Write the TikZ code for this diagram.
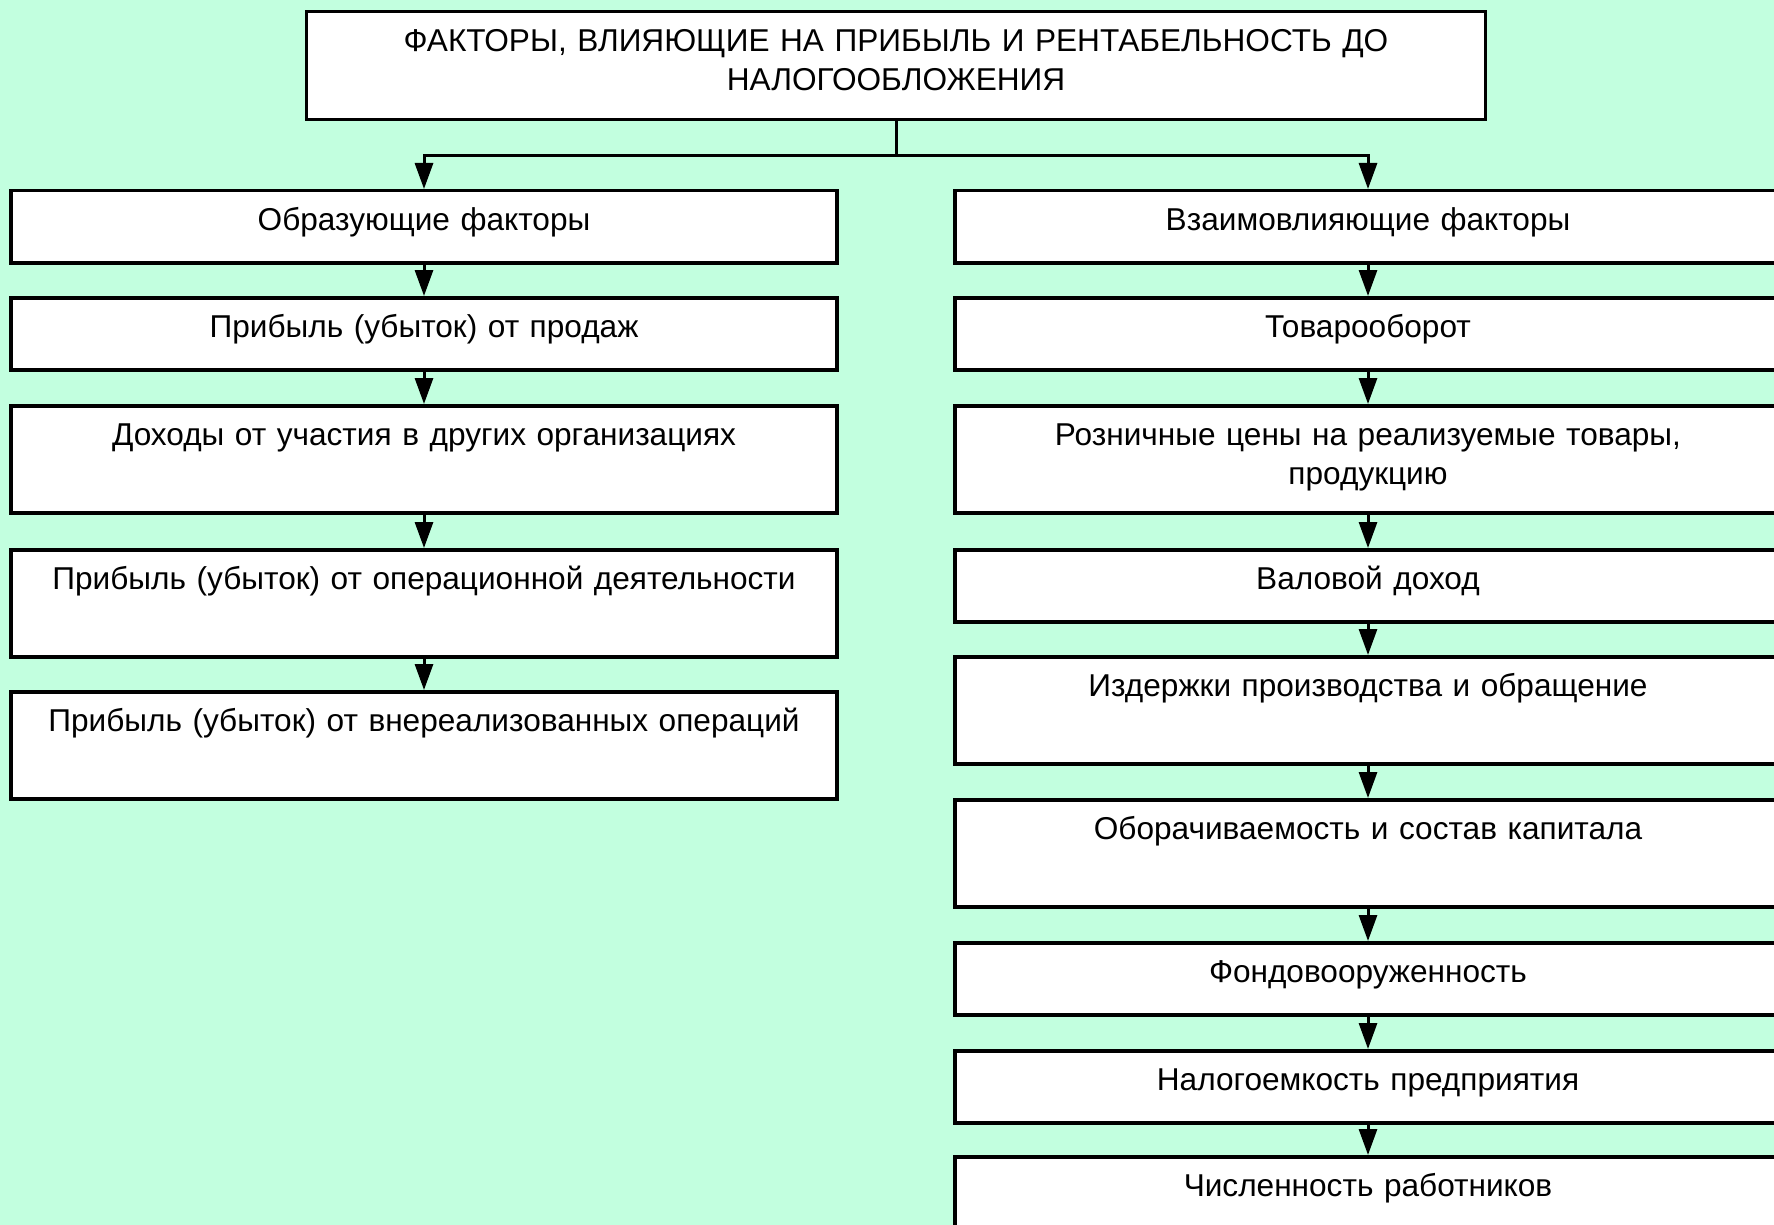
\documentclass[tikz,border=0pt]{standalone}
\usepackage{fontspec}
\setmainfont{Liberation Sans}
\usetikzlibrary{arrows.meta}
\definecolor{mintbg}{RGB}{194,255,223}
\tikzset{
  factbox/.style={draw=black, line width=3.5pt, fill=white, anchor=north,
                  text width=810pt, align=center, inner xsep=8pt, inner ysep=0pt,
                  text height=40pt},
  shortbox/.style={factbox, text depth=32pt},
  tallbox/.style={factbox, text depth=67pt},
  arrow/.style={-{Triangle[length=26pt, width=18pt]}, line width=3pt},
}

\begin{document}
\begin{tikzpicture}[x=1pt, y=1pt, font=\fontsize{31.6pt}{38.5pt}\selectfont]

% ── фон ───────────────────────────────────────────────────────────────────────
\useasboundingbox (0,0) rectangle (1774,-1225);
\clip (0,0) rectangle (1774,-1225);
\fill[mintbg] (0,0) rectangle (1774,-1225);

% ── заголовок ─────────────────────────────────────────────────────────────────
\node[factbox, text width=1163pt, text height=40pt, text depth=68pt] (title) at (896,-10)
  {ФАКТОРЫ, ВЛИЯЮЩИЕ НА ПРИБЫЛЬ И РЕНТАБЕЛЬНОСТЬ ДО\\НАЛОГООБЛОЖЕНИЯ};

% ── левая колонка: образующие факторы ─────────────────────────────────────────
\node[shortbox] (form)   at (424,-189) {Образующие факторы};
\node[shortbox] (sales)  at (424,-296) {Прибыль (убыток) от продаж};
\node[tallbox]  (income) at (424,-404) {Доходы от участия в других организациях};
\node[tallbox]  (oper)   at (424,-548) {Прибыль (убыток) от операционной деятельности};
\node[tallbox]  (extra)  at (424,-690) {Прибыль (убыток) от внереализованных операций};

% ── правая колонка: взаимовлияющие факторы ────────────────────────────────────
\node[shortbox] (mutual)  at (1368,-189)  {Взаимовлияющие факторы};
\node[shortbox] (turn)    at (1368,-296)  {Товарооборот};
\node[tallbox]  (prices)  at (1368,-404)  {Розничные цены на реализуемые товары,\\продукцию};
\node[shortbox] (gross)   at (1368,-548)  {Валовой доход};
\node[tallbox]  (costs)   at (1368,-655)  {Издержки производства и обращение};
\node[tallbox]  (capital) at (1368,-798)  {Оборачиваемость и состав капитала};
\node[shortbox] (assets)  at (1368,-941)  {Фондовооруженность};
\node[shortbox] (tax)     at (1368,-1049) {Налогоемкость предприятия};
\node[tallbox]  (staff)   at (1368,-1155) {Численность работников};

% ── связи ─────────────────────────────────────────────────────────────────────
\draw[arrow] (title.south) -- ++(0,-34) -| (form.north);
\draw[arrow] (title.south) -- ++(0,-34) -| (mutual.north);

\draw[arrow] (form.south)   -- (sales.north);
\draw[arrow] (sales.south)  -- (income.north);
\draw[arrow] (income.south) -- (oper.north);
\draw[arrow] (oper.south)   -- (extra.north);

\draw[arrow] (mutual.south)  -- (turn.north);
\draw[arrow] (turn.south)    -- (prices.north);
\draw[arrow] (prices.south)  -- (gross.north);
\draw[arrow] (gross.south)   -- (costs.north);
\draw[arrow] (costs.south)   -- (capital.north);
\draw[arrow] (capital.south) -- (assets.north);
\draw[arrow] (assets.south)  -- (tax.north);
\draw[arrow] (tax.south)     -- (staff.north);

\end{tikzpicture}
\end{document}
